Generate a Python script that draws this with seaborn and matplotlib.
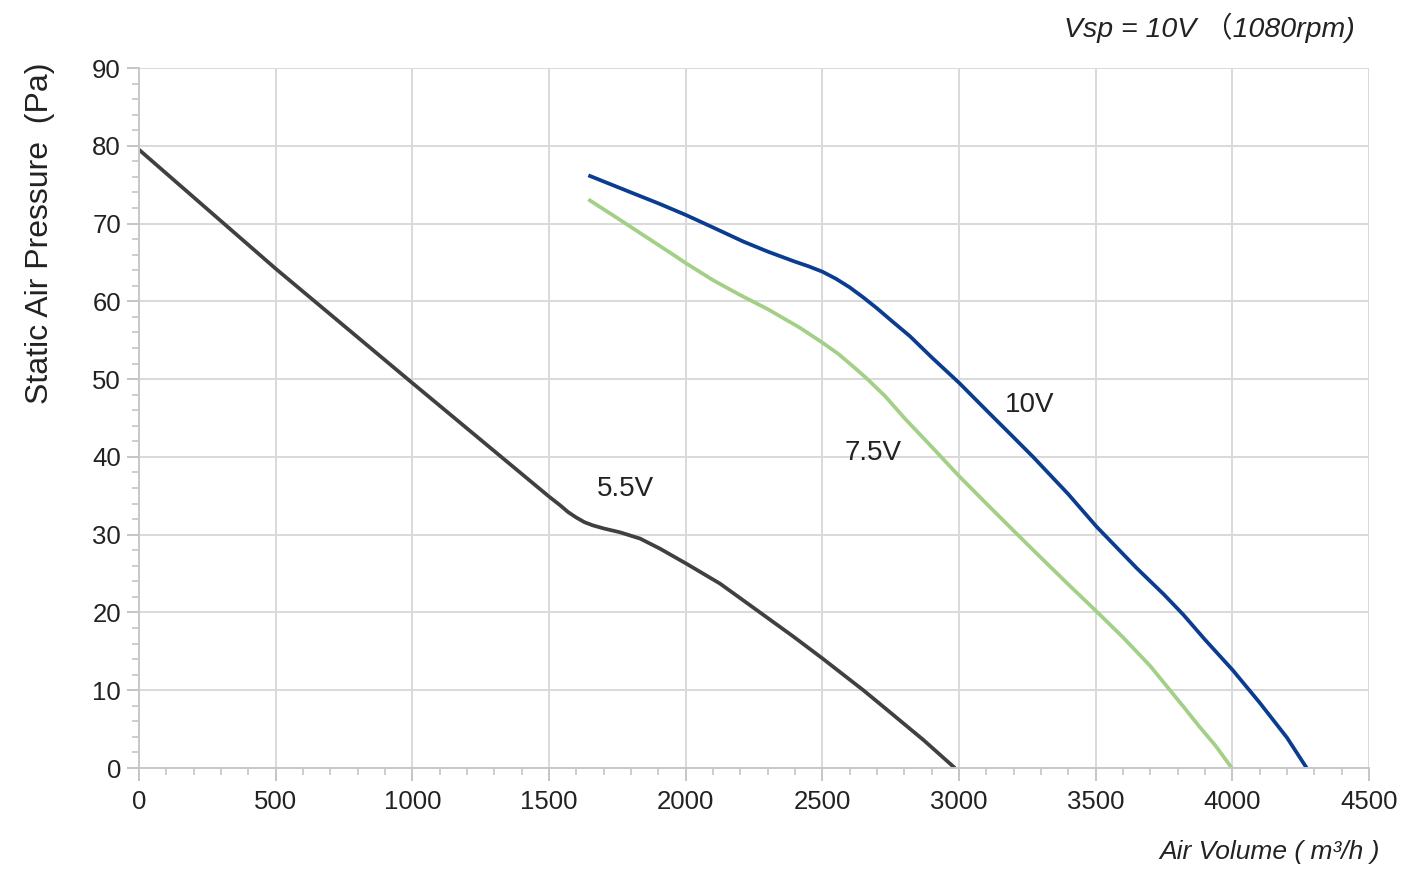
import matplotlib
matplotlib.use("Agg")
import matplotlib.pyplot as plt
from matplotlib.ticker import MultipleLocator
import numpy as np
import pandas as pd
import seaborn as sns

# curve values (air volume m3/h, static pressure Pa)
v55_x = [0, 500, 1000, 1500, 1540, 1570, 1600, 1630, 1660, 1700, 1760, 1833, 1906, 2001, 2126, 2272, 2394, 2500, 2650, 2750, 2870, 2985]
v55_y = [79.5, 64.2, 49.5, 34.9, 33.8, 32.9, 32.2, 31.6, 31.2, 30.8, 30.3, 29.5, 28.2, 26.3, 23.7, 20.0, 16.9, 14.1, 10.0, 7.1, 3.6, 0]

v75_x = [1644, 1750, 1850, 1950, 2001, 2101, 2200, 2300, 2418, 2504, 2560, 2620, 2662, 2730, 2800, 2900,
         3001, 3100, 3200, 3272, 3400, 3504, 3600, 3700, 3772, 3830, 3880, 3940, 3998]
v75_y = [73.1, 70.7, 68.4, 66.1, 64.9, 62.7, 60.8, 59.0, 56.6, 54.6, 53.2, 51.4, 50.1, 47.8, 45.0, 41.3,
         37.5, 34.0, 30.5, 28.0, 23.6, 20.1, 16.8, 13.1, 10.0, 7.5, 5.3, 2.8, 0]

v10_x = [1644, 1800, 1900, 2001, 2100, 2210, 2300, 2400, 2450, 2501, 2550, 2600, 2650, 2700, 2760, 2821, 2900,
         3001, 3100, 3200, 3271, 3400, 3504, 3650, 3750, 3821, 3900, 4001, 4100, 4200, 4272]
v10_y = [76.2, 74.0, 72.6, 71.1, 69.5, 67.7, 66.4, 65.1, 64.5, 63.8, 62.9, 61.8, 60.5, 59.1, 57.3, 55.5, 52.8,
         49.5, 46.0, 42.5, 40.0, 35.2, 31.0, 25.7, 22.3, 19.7, 16.5, 12.6, 8.4, 3.9, 0]

curve_labels = ["5.5V", "7.5V", "10V"]
label_pos = [(1780, 35.9), (2685, 40.5), (3260, 46.7)]
colors = ["#404040", "#a3cf87", "#0a3c8f"]

sns.set_style("white")
plt.rcParams['font.family'] = ['Liberation Sans', 'Noto Sans CJK SC', 'DejaVu Sans']

fig = plt.figure(figsize=(14.03, 8.71), dpi=100)
ax = fig.add_axes([139/1403, 1 - 768/871, 1230/1403, 700/871])

for xs, ys, c in zip([v55_x, v75_x, v10_x], [v55_y, v75_y, v10_y], colors):
    d = pd.DataFrame({"x": xs, "y": ys})
    sns.lineplot(data=d, x="x", y="y", color=c, linewidth=2.7, ax=ax, sort=False,
                 solid_capstyle="butt", solid_joinstyle="round")

for lab, (lx, ly) in zip(curve_labels, label_pos):
    ax.text(lx, ly, lab, fontsize=20, ha="center", va="center", color="#222222")

ax.set_xlim(0, 4500)
ax.set_ylim(0, 90)
ax.xaxis.set_major_locator(MultipleLocator(500))
ax.xaxis.set_minor_locator(MultipleLocator(100))
ax.yaxis.set_major_locator(MultipleLocator(10))
ax.yaxis.set_minor_locator(MultipleLocator(2))
ax.grid(True, which="major", color="#d9d9d9", linewidth=1.4)
ax.set_axisbelow(True)
for s in ["top", "right"]:
    ax.spines[s].set_visible(False)
for s in ["left", "bottom"]:
    ax.spines[s].set_color("#c8c8c8")
    ax.spines[s].set_linewidth(1.4)
ax.tick_params(which="both", bottom=True, left=True, top=False, right=False)
ax.tick_params(which="major", direction="out", length=9, width=1.3, color="#c0c0c0",
               labelsize=18.5, labelcolor="#222222")
ax.tick_params(which="minor", direction="out", length=5, width=1.1, color="#c0c0c0")
ax.tick_params(axis="x", which="major", pad=7)
ax.tick_params(axis="y", which="major", pad=4)
ax.set_xlabel("")
ax.set_ylabel("")

fig.text(40/1403, 1 - 233/871, "Static Air Pressure  (Pa)", rotation=90, fontsize=23,
         ha="center", va="center", color="#222222")
fig.text(1380/1403, 1 - 852/871, "Air Volume ( m³/h )", fontsize=19, style="italic",
         ha="right", va="center", color="#222222")
fig.text(1355/1403, 1 - 28/871, "Vsp = 10V （1080rpm)", fontsize=20.5, style="italic",
         ha="right", va="center", color="#222222")

fig.savefig("out.png", dpi=100, facecolor="white")
